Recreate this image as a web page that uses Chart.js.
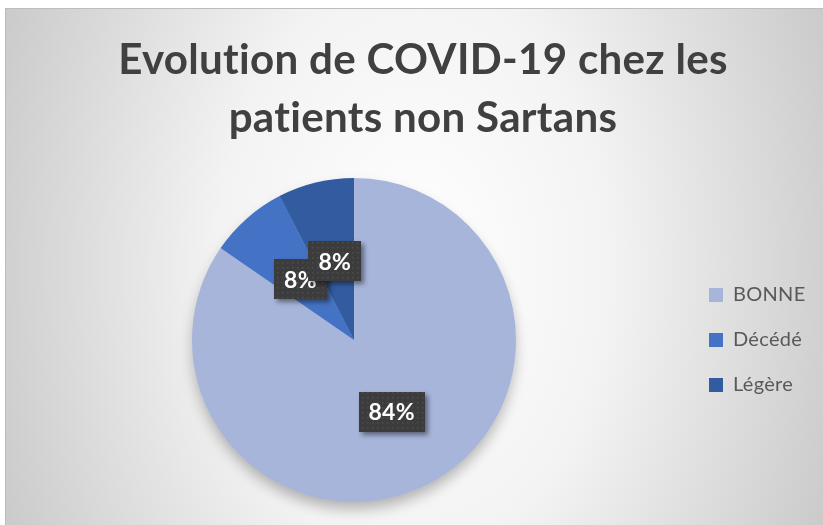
<!DOCTYPE html>
<html>
<head>
<meta charset="utf-8">
<script src="https://cdn.jsdelivr.net/npm/chart.js@4"></script>
<style>
  html, body { margin: 0; padding: 0; width: 823px; height: 525px; overflow: hidden; background: #ffffff; }
  #bg {
    position: absolute; left: 5px; top: 8px; right: 0; bottom: 0;
    border-top: 1px solid #bdbdbd; border-left: 1px solid #bdbdbd;
    background: radial-gradient(ellipse 60% 140% at 50% 50%, #ffffff 0%, #f3f3f3 40%, #c3c3c3 100%);
  }
  #wrap { position: absolute; left: 0; top: 0; width: 823px; height: 525px; }
</style>
</head>
<body>
<div id="bg"></div>
<div id="wrap"><canvas id="c" width="823" height="525"></canvas></div>
<script>
// ---- data ----
const categories = ['BONNE', 'Décédé', 'Légère'];
const values = [84.6, 7.8, 7.6];
const valueLabels = ['84%', '8%', '8%'];
const titleLines = ['Evolution de COVID-19 chez les', 'patients non Sartans'];

// ---- styles ----
const sliceColors = ['#A7B5DB', '#4472C4', '#335CA0'];
const TITLE_FONT = 'Lato';
const TITLE_TARGET_W = 614;
const LEGEND_W = 138;
const LETTER_SP = '0.3px';

// fit title font size to target width
const mctx = document.createElement('canvas').getContext('2d');
mctx.font = 'bold 100px ' + TITLE_FONT;
if ('letterSpacing' in mctx) mctx.letterSpacing = '1px';
const titleSize = Math.round(100 * TITLE_TARGET_W / mctx.measureText(titleLines[0]).width * 10) / 10;

// dotted pattern for label boxes
function makePattern(ctx) {
  const p = document.createElement('canvas');
  p.width = 5; p.height = 5;
  const pc = p.getContext('2d');
  pc.fillStyle = '#3c3c3c';
  pc.fillRect(0, 0, 5, 5);
  pc.fillStyle = '#4e4e4e';
  pc.fillRect(2, 2, 1.5, 1.5);
  return ctx.createPattern(p, 'repeat');
}

const legendWidthPlugin = {
  id: 'legendWidth',
  beforeLayout(chart) {
    const lg = chart.legend;
    if (lg && !lg._wrappedFit) {
      const f = lg.fit;
      lg.fit = function () { f.call(this); this.width = LEGEND_W; };
      lg._wrappedFit = true;
    }
  },
  beforeDraw(chart) {
    if ('letterSpacing' in chart.ctx) chart.ctx.letterSpacing = LETTER_SP;
  }
};

const pieShadowPlugin = {
  id: 'pieShadow',
  beforeDatasetsDraw(chart) {
    const arc = chart.getDatasetMeta(0).data[0];
    if (!arc) return;
    const ctx = chart.ctx;
    ctx.save();
    ctx.shadowColor = 'rgba(0,0,0,0.28)';
    ctx.shadowBlur = 14;
    ctx.shadowOffsetX = 0;
    ctx.shadowOffsetY = 8;
    ctx.fillStyle = sliceColors[0];
    ctx.beginPath();
    ctx.arc(arc.x, arc.y, arc.outerRadius - 1, 0, Math.PI * 2);
    ctx.fill();
    ctx.restore();
  }
};

const labelBoxPlugin = {
  id: 'labelBoxes',
  afterDatasetsDraw(chart) {
    const ctx = chart.ctx;
    const meta = chart.getDatasetMeta(0);
    const pattern = makePattern(ctx);
    ctx.save();
    ctx.font = 'bold 23px Lato';
    meta.data.forEach((arc, i) => {
      const pos = arc.tooltipPosition();
      const txt = valueLabels[i];
      const tw = ctx.measureText(txt).width;
      const w = Math.round(tw + 20), h = 40;
      const x = Math.round(pos.x - w / 2), y = Math.round(pos.y - h / 2);
      ctx.save();
      ctx.shadowColor = 'rgba(0,0,0,0.45)';
      ctx.shadowBlur = 5;
      ctx.shadowOffsetX = 3;
      ctx.shadowOffsetY = 3;
      ctx.fillStyle = pattern;
      ctx.fillRect(x, y, w, h);
      ctx.restore();
      ctx.fillStyle = '#ffffff';
      ctx.textAlign = 'center';
      ctx.textBaseline = 'middle';
      ctx.fillText(txt, pos.x, pos.y + 1);
    });
    ctx.restore();
  }
};

new Chart(document.getElementById('c'), {
  type: 'pie',
  data: {
    labels: categories,
    datasets: [{
      data: values,
      backgroundColor: sliceColors,
      borderWidth: 0,
      hoverOffset: 0
    }]
  },
  options: {
    responsive: false,
    animation: false,
    layout: { padding: { left: 24, right: 1, top: 0, bottom: 23 } },
    plugins: {
      title: {
        display: true,
        text: titleLines,
        color: '#404040',
        font: { family: TITLE_FONT, weight: 'bold', size: titleSize, lineHeight: '58px' },
        padding: { top: 31, bottom: 31 }
      },
      legend: {
        position: 'right',
        align: 'center',
        fullSize: false,
        labels: {
          boxWidth: 14,
          boxHeight: 14,
          padding: 25,
          color: '#595959',
          font: { family: 'Lato', size: 20 }
        }
      },
      tooltip: { enabled: false }
    }
  },
  plugins: [legendWidthPlugin, pieShadowPlugin, labelBoxPlugin]
});
</script>
</body>
</html>
